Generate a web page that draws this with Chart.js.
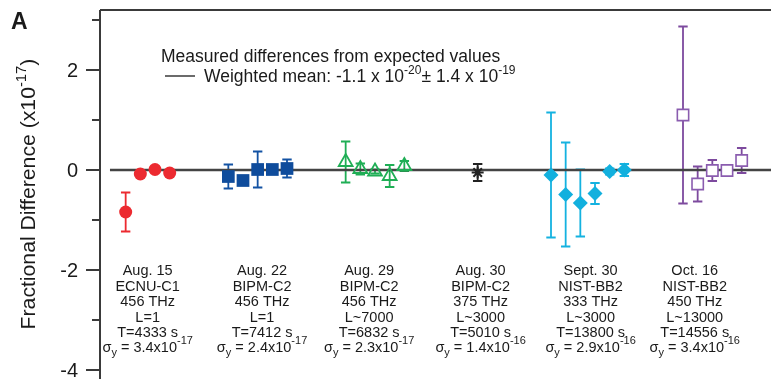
<!DOCTYPE html>
<html lang="en">
<head>
<meta charset="UTF-8">
<title>Fractional Difference</title>
<script src="https://cdn.jsdelivr.net/npm/chart.js@4.4.0/dist/chart.umd.min.js"></script>
<style>
  html, body { margin: 0; padding: 0; background: #fff; }
  #wrap { width: 771px; height: 379px; }
</style>
</head>
<body>
<div id="wrap"><canvas id="chart" width="771" height="379"></canvas></div>
<script>
// measurement slots along x, values and 1-sigma errors (units of 1e-17)
const ecnuX = [0, 1, 2, 3];
const ecnuY = [-0.84, -0.08, 0.01, -0.06];
const ecnuErr = [0.39, 0.05, 0.05, 0.05];

const bipm22X = [7, 8, 9, 10, 11];
const bipm22Y = [-0.13, -0.21, 0.01, 0.01, 0.03];
const bipm22Err = [0.24, 0.08, 0.36, 0.08, 0.18];

const bipm29X = [15, 16, 17, 18, 19];
const bipm29Y = [0.16, 0.02, -0.03, -0.12, 0.08];
const bipm29Err = [0.41, 0.11, 0.04, 0.22, 0.1];

const bipm30X = [24];
const bipm30Y = [-0.05];
const bipm30Err = [0.17];

const nistSepX = [29, 30, 31, 32, 33, 34];
const nistSepY = [-0.1, -0.49, -0.66, -0.47, -0.03, 0.0];
const nistSepErr = [1.25, 1.04, 0.67, 0.21, 0.06, 0.12];

const nistOctX = [38, 39, 40, 41, 42];
const nistOctY = [1.1, -0.28, -0.01, -0.01, 0.19];
const nistOctErr = [1.77, 0.35, 0.21, 0.1, 0.25];

const meanValue = -0.0011;   // -1.1e-20
const meanX = [-1.07, 44];

const yTickVals = [-4, -3, -2, -1, 0, 1, 2, 3];
const yTickLabels = {'-4': '-4', '-2': '-2', '0': '0', '2': '2'};

const groupDates = ["Aug. 15", "Aug. 22", "Aug. 29", "Aug. 30", "Sept. 30", "Oct. 16"];
const groupClocks = ["ECNU-C1", "BIPM-C2", "BIPM-C2", "BIPM-C2", "NIST-BB2", "NIST-BB2"];
const groupFreqs = ["456 THz", "456 THz", "456 THz", "375 THz", "333 THz", "450 THz"];
const groupLengths = ["L=1", "L=1", "L~7000", "L~3000", "L~3000", "L~13000"];
const groupTimes = ["T=4333 s", "T=7412 s", "T=6832 s", "T=5010 s", "T=13800 s", "T=14556 s"];
const groupSigma = ["3.4", "2.4", "2.3", "1.4", "2.9", "3.4"];
const groupSigmaExp = ["-17", "-17", "-17", "-16", "-16", "-16"];

const FONT = "'Liberation Sans', Arial, Helvetica, sans-serif";

function pts(xs, ys, errs) {
  return xs.map((x, i) => ({x: x, y: ys[i], err: errs[i]}));
}

// draws a run of text pieces (some raised / lowered) starting at x
function drawParts(ctx, parts, x, y, align) {
  let total = 0;
  parts.forEach(p => { ctx.font = p.font; p.w = ctx.measureText(p.t).width; total += p.w; });
  let cx = align === 'center' ? x - total / 2 : x;
  ctx.textAlign = 'left';
  parts.forEach(p => {
    ctx.font = p.font;
    ctx.fillText(p.t, cx, y + (p.dy || 0));
    cx += p.w;
  });
}

const errorBars = {
  id: 'errorBars',
  beforeDatasetsDraw(chart) {
    const ctx = chart.ctx;
    const xs = chart.scales.x, ys = chart.scales.y;
    chart.data.datasets.forEach((ds, i) => {
      if (!ds.errBars) return;
      ctx.save();
      ctx.strokeStyle = ds.barColor;
      ctx.lineWidth = 1.8;
      ds.data.forEach(d => {
        const px = xs.getPixelForValue(d.x);
        const top = ys.getPixelForValue(d.y + d.err);
        const bot = ys.getPixelForValue(d.y - d.err);
        ctx.beginPath();
        ctx.moveTo(px, top); ctx.lineTo(px, bot);
        ctx.moveTo(px - 4.7, top); ctx.lineTo(px + 4.7, top);
        ctx.moveTo(px - 4.7, bot); ctx.lineTo(px + 4.7, bot);
        ctx.stroke();
      });
      ctx.restore();
    });
  }
};

const decorations = {
  id: 'decorations',
  afterDraw(chart) {
    const ctx = chart.ctx;
    const area = chart.chartArea;
    const xs = chart.scales.x, ys = chart.scales.y;
    ctx.save();
    // frame: top and left
    ctx.strokeStyle = '#3a3a3a';
    ctx.lineWidth = 2;
    ctx.beginPath();
    ctx.moveTo(area.left, area.top); ctx.lineTo(area.right, area.top);
    ctx.moveTo(area.left, area.top); ctx.lineTo(area.left, area.bottom);
    ctx.stroke();
    // tick marks, long at labelled values, and their labels
    ctx.fillStyle = '#1a1a1a';
    ctx.font = '20px ' + FONT;
    ctx.textAlign = 'right';
    ctx.textBaseline = 'middle';
    yTickVals.forEach(v => {
      const py = ys.getPixelForValue(v);
      const lab = yTickLabels[v];
      const len = lab !== undefined ? 14 : 8;
      ctx.beginPath();
      ctx.moveTo(area.left - len, py); ctx.lineTo(area.left, py);
      ctx.stroke();
      if (lab !== undefined) ctx.fillText(lab, area.left - 22, py + 1);
    });

    ctx.textBaseline = 'alphabetic';
    ctx.textAlign = 'left';
    ctx.font = 'bold 23px ' + FONT;
    ctx.fillText('A', 11, 29);

    // y title
    ctx.save();
    ctx.translate(35, 194);
    ctx.rotate(-Math.PI / 2);
    ctx.scale(1.06, 1);
    drawParts(ctx, [
      {t: 'Fractional Difference (x10', font: '20px ' + FONT},
      {t: '-17', font: '14px ' + FONT, dy: -9},
      {t: ')', font: '20px ' + FONT}
    ], 0, 0, 'center');
    ctx.restore();

    // legend
    ctx.font = '17.5px ' + FONT;
    ctx.fillText('Measured differences from expected values', 161, 62);
    ctx.lineWidth = 1.5;
    ctx.beginPath();
    ctx.moveTo(165, 76); ctx.lineTo(195, 76);
    ctx.stroke();
    drawParts(ctx, [
      {t: 'Weighted mean: -1.1 x 10', font: '17.5px ' + FONT},
      {t: '-20', font: '12px ' + FONT, dy: -8},
      {t: '\u00b1 1.4 x 10', font: '17.5px ' + FONT},
      {t: '-19', font: '12px ' + FONT, dy: -8}
    ], 204, 82, 'left');

    // group captions
    const groups = [ecnuX, bipm22X, bipm29X, bipm30X, nistSepX, nistOctX];
    const shift = [0, 0.3, -0.4, 0.2, 0.2, -1.2];
    const rows = [275, 290.5, 306, 321.5, 337];
    const f = '14.5px ' + FONT;
    groups.forEach((g, i) => {
      const cx = xs.getPixelForValue((g[0] + g[g.length - 1]) / 2 + shift[i]);
      ctx.font = f;
      ctx.textAlign = 'center';
      [groupDates[i], groupClocks[i], groupFreqs[i], groupLengths[i], groupTimes[i]].forEach((t, r) => {
        ctx.fillText(t, cx, rows[r]);
      });
      drawParts(ctx, [
        {t: '\u03c3', font: f},
        {t: 'y', font: '11px ' + FONT, dy: 4},
        {t: ' = ' + groupSigma[i] + 'x10', font: f},
        {t: groupSigmaExp[i], font: '11px ' + FONT, dy: -8}
      ], cx, 352, 'center');
    });
    ctx.restore();
  }
};

function markerSet(data, style) {
  return Object.assign({type: 'scatter', data: data, errBars: true, showLine: false, order: 1}, style);
}

new Chart(document.getElementById('chart'), {
  data: {
    datasets: [
      {
        type: 'line',
        data: meanX.map(x => ({x: x, y: meanValue})),
        borderColor: '#444',
        borderWidth: 2.5,
        pointRadius: 0,
        order: 10
      },
      markerSet(pts(ecnuX, ecnuY, ecnuErr), {
        barColor: '#ec2a30', pointStyle: 'circle', pointRadius: 6.5,
        backgroundColor: '#ec2a30', borderColor: '#ec2a30', borderWidth: 0
      }),
      markerSet(pts(bipm22X, bipm22Y, bipm22Err), {
        barColor: '#1352a3', pointStyle: 'rect', pointRadius: 9,
        backgroundColor: '#0f4c9c', borderColor: '#0f4c9c', borderWidth: 0
      }),
      markerSet(pts(bipm29X, bipm29Y, bipm29Err), {
        barColor: '#1fae55', pointStyle: 'triangle', pointRadius: 8,
        backgroundColor: 'rgba(0,0,0,0)', borderColor: '#1fae55', borderWidth: 1.8
      }),
      markerSet(pts(bipm30X, bipm30Y, bipm30Err), {
        barColor: '#222', pointStyle: 'star', pointRadius: 6,
        backgroundColor: '#222', borderColor: '#222', borderWidth: 2
      }),
      markerSet(pts(nistSepX, nistSepY, nistSepErr), {
        barColor: '#14b2e0', pointStyle: 'rectRot', pointRadius: 7.5,
        backgroundColor: '#12b0de', borderColor: '#12b0de', borderWidth: 0
      }),
      markerSet(pts(nistOctX, nistOctY, nistOctErr), {
        barColor: '#7d4a9e', pointStyle: 'rect', pointRadius: 8,
        backgroundColor: '#fff', borderColor: '#8a5caf', borderWidth: 1.6
      })
    ]
  },
  options: {
    responsive: false,
    devicePixelRatio: 1,
    animation: false,
    layout: {autoPadding: false, padding: {left: 0, top: 10, right: 0, bottom: 0}},
    plugins: {legend: {display: false}, tooltip: {enabled: false}},
    scales: {
      x: {type: 'linear', min: -1.75, max: 44, display: false},
      y: {
        type: 'linear',
        min: -4.18,
        max: 3.2,
        afterFit: s => { s.width = 100; },
        afterBuildTicks: s => { s.ticks = yTickVals.map(v => ({value: v})); },
        grid: {display: false, drawTicks: false},
        border: {display: false},
        ticks: {display: false}
      }
    }
  },
  plugins: [errorBars, decorations]
});
</script>
</body>
</html>
